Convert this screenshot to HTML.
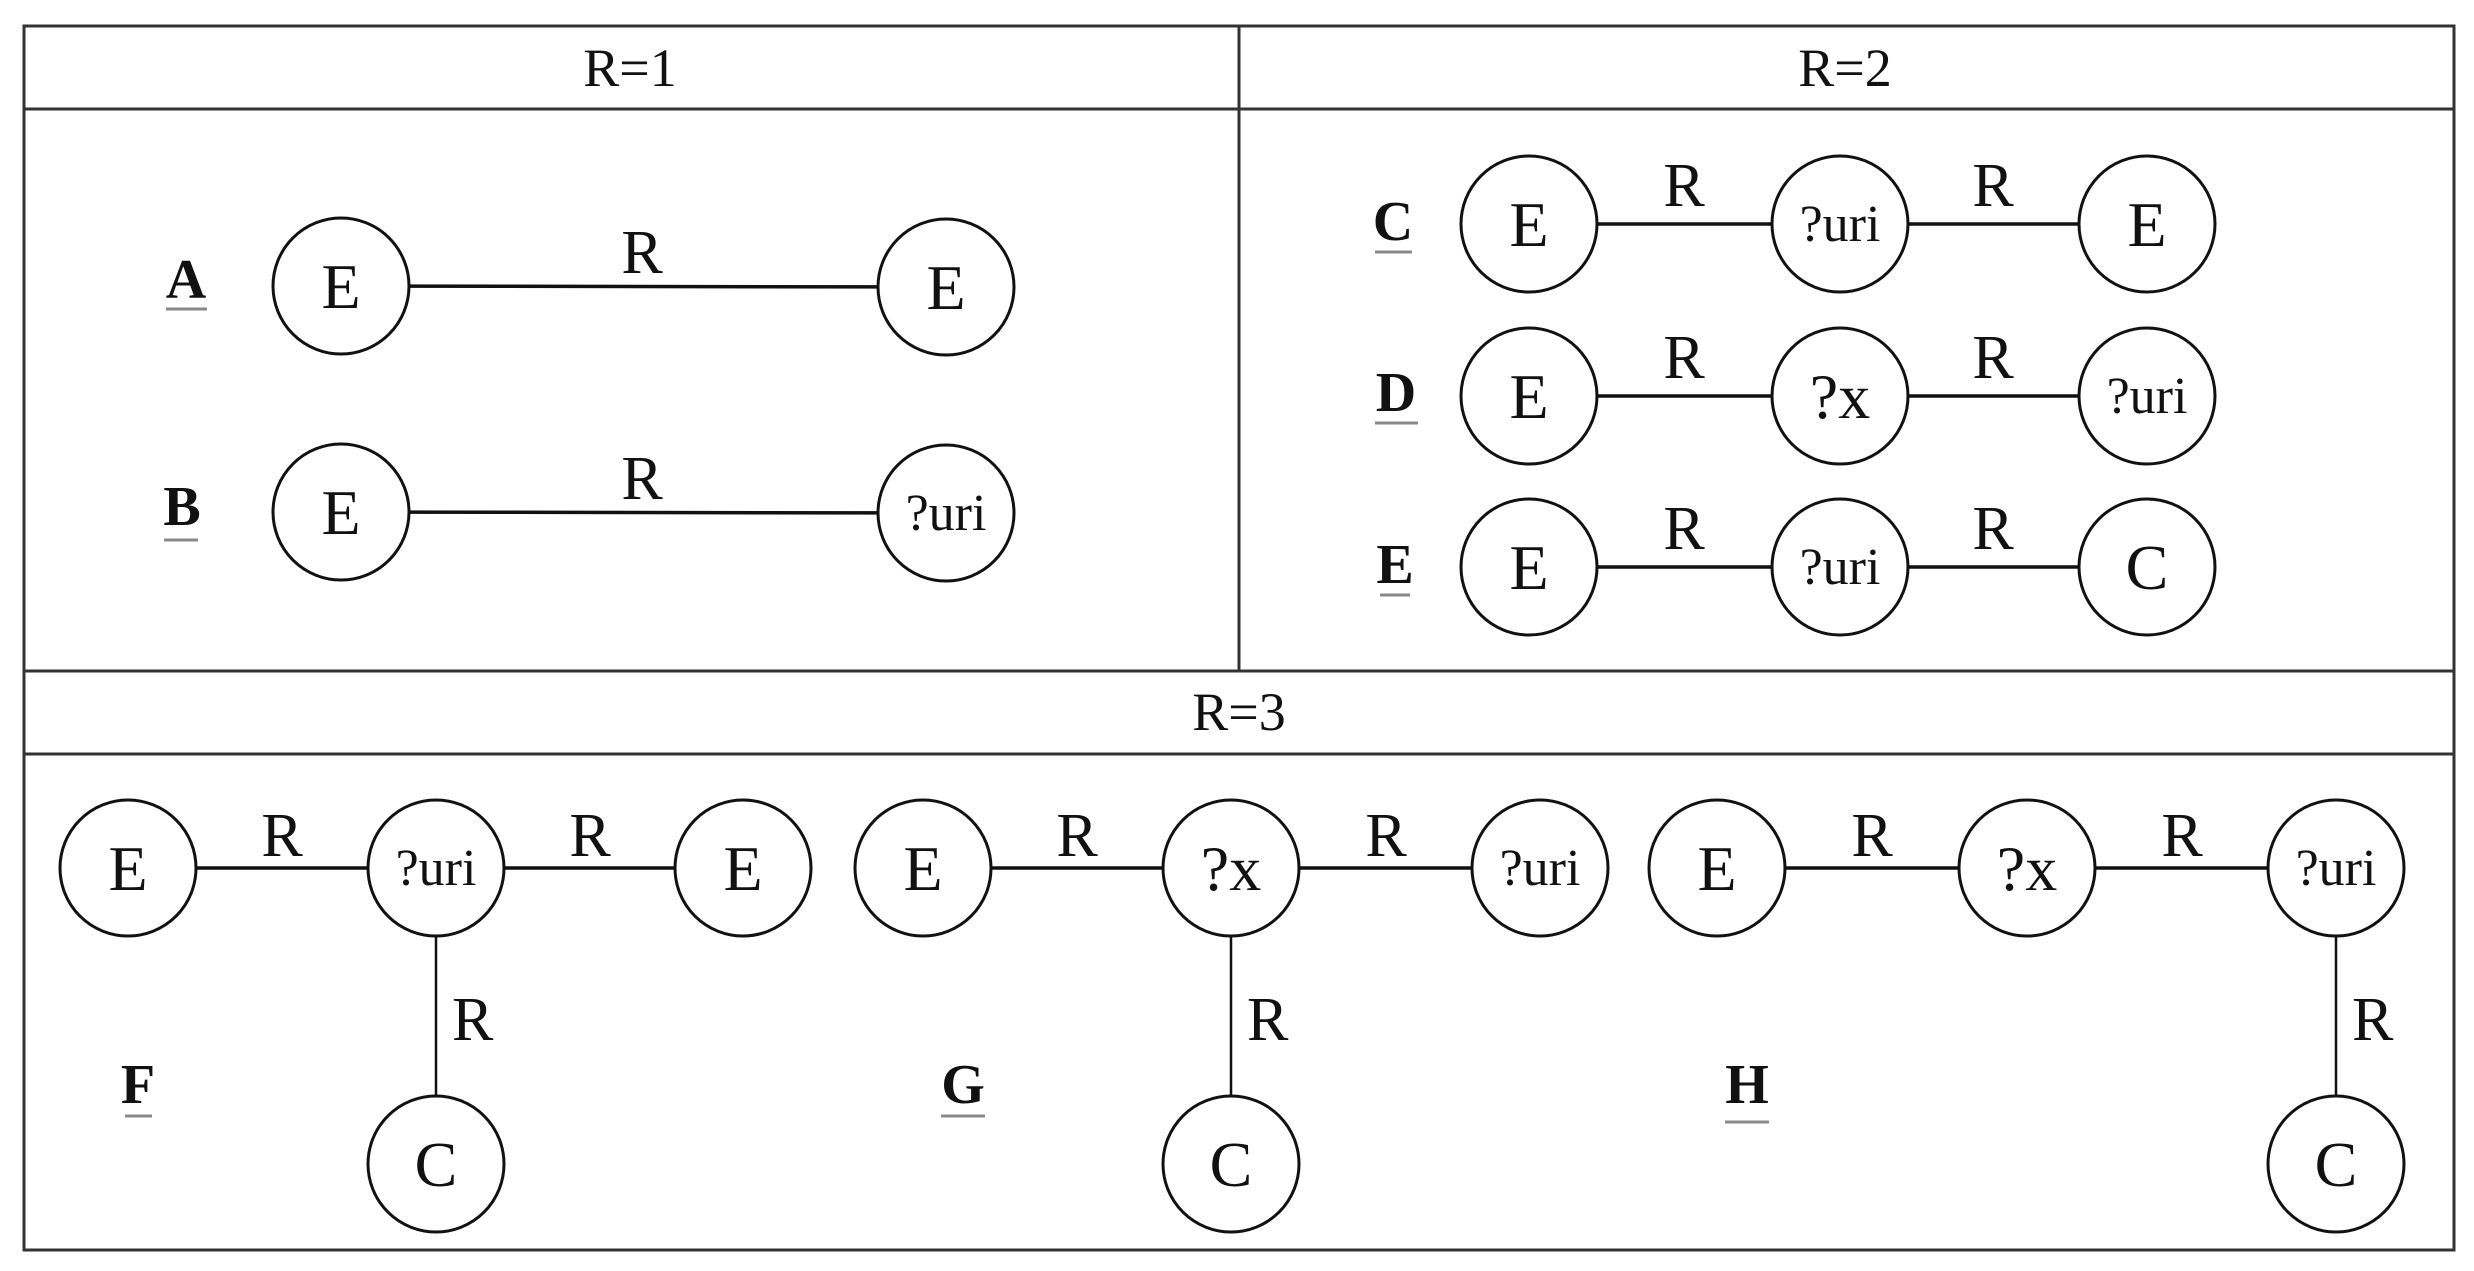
<!DOCTYPE html>
<html><head><meta charset="utf-8"><style>html,body{margin:0;padding:0;background:#fff}svg{display:block}text{font-family:"Liberation Serif",serif;fill:#111}</style></head>
<body>
<svg width="2474" height="1271" viewBox="0 0 2474 1271" xmlns="http://www.w3.org/2000/svg">
<g fill="none" stroke="#333" stroke-width="3">
<rect x="24" y="26" width="2430" height="1224"/>
<line x1="24" y1="109" x2="2454" y2="109"/>
<line x1="1239" y1="26" x2="1239" y2="671"/>
<line x1="24" y1="671" x2="2454" y2="671"/>
<line x1="24" y1="754" x2="2454" y2="754"/>
</g>
<g font-size="54" text-anchor="middle">
<text x="630" y="86">R=1</text>
<text x="1845" y="86">R=2</text>
<text x="1239" y="730">R=3</text>
</g>
<g stroke="#111" stroke-width="3.5">
<line x1="341" y1="286" x2="946" y2="287"/>
<line x1="341" y1="512" x2="946" y2="513"/>
<line x1="1529" y1="224" x2="2147" y2="224"/>
<line x1="1529" y1="396" x2="2147" y2="396"/>
<line x1="1529" y1="567" x2="2147" y2="567"/>
<line x1="128" y1="868" x2="743" y2="868"/>
<line x1="923" y1="868" x2="1540" y2="868"/>
<line x1="1717" y1="868" x2="2336" y2="868"/>
</g>
<g stroke="#111" stroke-width="2.5">
<line x1="436" y1="868" x2="436" y2="1164"/>
<line x1="1231" y1="868" x2="1231" y2="1164"/>
<line x1="2336" y1="868" x2="2336" y2="1164"/>
</g>
<g fill="#fff" stroke="#111" stroke-width="3">
<circle cx="341" cy="286" r="68"/><circle cx="946" cy="287" r="68"/>
<circle cx="341" cy="512" r="68"/><circle cx="946" cy="513" r="68"/>
<circle cx="1529" cy="224" r="68"/><circle cx="1840" cy="224" r="68"/><circle cx="2147" cy="224" r="68"/>
<circle cx="1529" cy="396" r="68"/><circle cx="1840" cy="396" r="68"/><circle cx="2147" cy="396" r="68"/>
<circle cx="1529" cy="567" r="68"/><circle cx="1840" cy="567" r="68"/><circle cx="2147" cy="567" r="68"/>
<circle cx="128" cy="868" r="68"/><circle cx="436" cy="868" r="68"/><circle cx="743" cy="868" r="68"/><circle cx="436" cy="1164" r="68"/>
<circle cx="923" cy="868" r="68"/><circle cx="1231" cy="868" r="68"/><circle cx="1540" cy="868" r="68"/><circle cx="1231" cy="1164" r="68"/>
<circle cx="1717" cy="868" r="68"/><circle cx="2027" cy="868" r="68"/><circle cx="2336" cy="868" r="68"/><circle cx="2336" cy="1164" r="68"/>
</g>
<g font-size="64" text-anchor="middle">
<text x="341" y="308">E</text><text x="946" y="309">E</text>
<text x="341" y="534">E</text>
<text x="1529" y="246">E</text><text x="2147" y="246">E</text>
<text x="1529" y="418">E</text><text x="1840" y="418">?x</text>
<text x="1529" y="589">E</text><text x="2147" y="589">C</text>
<text x="128" y="890">E</text><text x="743" y="890">E</text><text x="436" y="1186">C</text>
<text x="923" y="890">E</text><text x="1231" y="890">?x</text><text x="1231" y="1186">C</text>
<text x="1717" y="890">E</text><text x="2027" y="890">?x</text><text x="2336" y="1186">C</text>
</g>
<g font-size="52" text-anchor="middle">
<text x="946" y="530">?uri</text>
<text x="1840" y="241">?uri</text><text x="2147" y="413">?uri</text><text x="1840" y="584">?uri</text>
<text x="436" y="885">?uri</text><text x="1540" y="885">?uri</text><text x="2336" y="885">?uri</text>
</g>
<g font-size="62" text-anchor="middle">
<text x="642" y="273">R</text><text x="642" y="499">R</text>
<text x="1684" y="206">R</text><text x="1993" y="206">R</text>
<text x="1684" y="378">R</text><text x="1993" y="378">R</text>
<text x="1684" y="549">R</text><text x="1993" y="549">R</text>
<text x="282" y="856">R</text><text x="590" y="856">R</text>
<text x="1077" y="856">R</text><text x="1386" y="856">R</text>
<text x="1872" y="856">R</text><text x="2182" y="856">R</text>
</g>
<g font-size="62">
<text x="452" y="1040">R</text><text x="1247" y="1040">R</text><text x="2352" y="1040">R</text>
</g>
<g font-size="56" font-weight="bold" text-anchor="middle">
<text x="186" y="298">A</text><text x="182" y="525">B</text>
<text x="1393" y="240">C</text><text x="1396" y="411">D</text><text x="1395" y="583">E</text>
<text x="138" y="1103">F</text><text x="963" y="1103">G</text><text x="1747" y="1103">H</text>
</g>
<g stroke="#888" stroke-width="3">
<line x1="166" y1="309" x2="207" y2="309"/><line x1="164" y1="540" x2="198" y2="540"/>
<line x1="1375" y1="252" x2="1412" y2="252"/><line x1="1375" y1="423" x2="1418" y2="423"/><line x1="1380" y1="595" x2="1410" y2="595"/>
<line x1="125" y1="1116" x2="152" y2="1116"/><line x1="941" y1="1116" x2="985" y2="1116"/><line x1="1725" y1="1122" x2="1769" y2="1122"/>
</g>
</svg>
</body></html>
